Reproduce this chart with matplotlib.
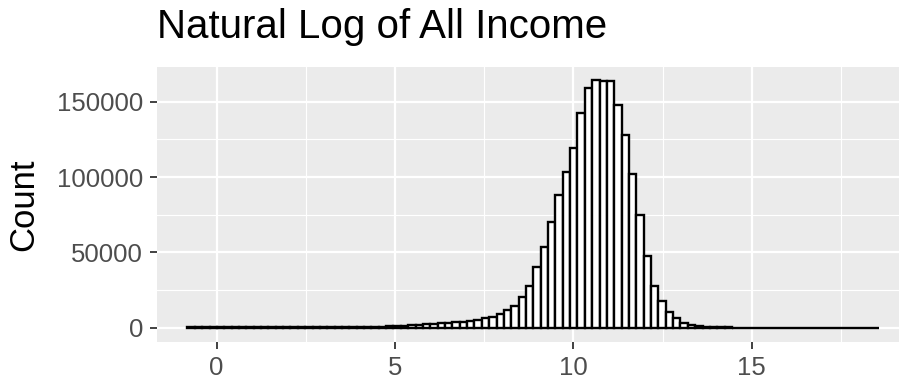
import numpy as np
import matplotlib
matplotlib.use('Agg')
import matplotlib.pyplot as plt
from matplotlib.ticker import MultipleLocator

plt.rcParams['font.family'] = ['Liberation Sans', 'DejaVu Sans']

# histogram of log income, counts (94 bins)
bin_start = -0.82
bin_width = 0.2063
counts = [
    150, 150, 150, 150, 150, 150, 150, 150, 150, 150,
    150, 150, 150, 150, 150, 160, 170, 180, 200, 220,
    250, 300, 350, 400, 500, 600, 700, 900, 1100, 1300,
    1600, 1900, 2200, 2500, 2900, 3300, 3600, 4000, 4400, 5100,
    6200, 7300, 8900, 11750, 14600, 20200, 27700, 40500, 53800, 70000,
    88100, 103200, 119500, 142800, 159400, 164500, 163800, 163800, 147600, 128000,
    102200, 75000, 47800, 28000, 17400, 10700, 6600, 3400, 2000, 900,
    500, 300, 200, 150, 100, 80, 60, 50, 40, 30,
    25, 20, 15, 10, 10, 10, 10, 10, 10, 10,
    10, 10, 10, 10,
]
x_ticks = [0, 5, 10, 15]
y_ticks = [0, 50000, 100000, 150000]

edges = bin_start + bin_width * np.arange(len(counts) + 1)

fig = plt.figure(figsize=(9, 3.81), dpi=100)
ax = fig.add_axes([0.1744, 0.1024, 0.8246, 0.7216])
ax.set_facecolor('#EBEBEB')

ax.bar(edges[:-1], counts, width=bin_width, align='edge', facecolor='white',
       edgecolor='black', linewidth=1.7, zorder=3)

ax.set_xlim(-1.674, 19.13)
ax.set_ylim(-9500, 173100)

ax.set_xticks(x_ticks)
ax.set_yticks(y_ticks)
ax.set_yticklabels([str(v) for v in y_ticks])
ax.xaxis.set_minor_locator(MultipleLocator(2.5))
ax.yaxis.set_minor_locator(MultipleLocator(25000))
ax.grid(which='major', color='white', linewidth=1.6, zorder=0)
ax.grid(which='minor', color='white', linewidth=0.8, zorder=0)
ax.set_axisbelow(True)
for s in ax.spines.values():
    s.set_visible(False)

ax.tick_params(which='major', length=5, width=1.3, color='#333333',
               labelsize=18.5, labelcolor='#4D4D4D', pad=5)
ax.tick_params(which='minor', length=0)

ax.set_ylabel('Count', fontsize=25, labelpad=12)
fig.text(0.1744, 0.929, 'Natural Log of All Income', fontsize=29, va='center', ha='left')

fig.savefig('out.png', dpi=100)
